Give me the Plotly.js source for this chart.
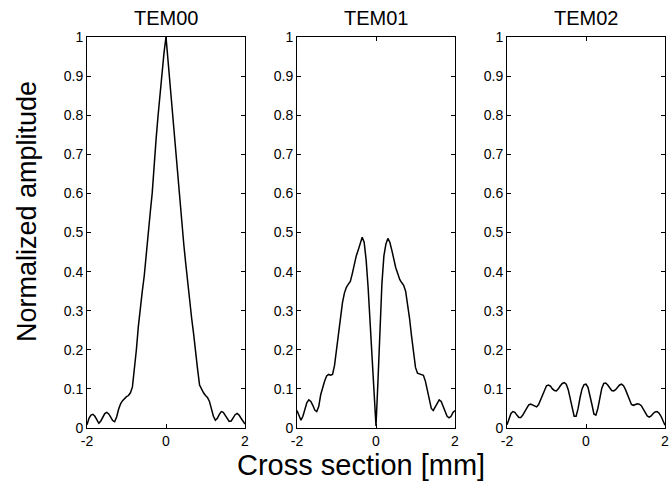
<!DOCTYPE html>
<html>
<head>
<meta charset="utf-8">
<script src="https://cdn.plot.ly/plotly-3.0.1.min.js"></script>
<style>html,body{margin:0;padding:0;background:#fff;}#chart{width:669px;height:483px;}</style>
</head>
<body>
<div id="chart"></div>
<script>
// Cross-section positions [mm]
const xPos = [-2.0,-1.95,-1.9,-1.85,-1.8,-1.75,-1.7,-1.65,-1.6,-1.55,-1.5,-1.45,-1.4,-1.35,-1.3,-1.25,-1.2,-1.15,-1.1,-1.05,
  -1.0,-0.95,-0.9,-0.85,-0.8,-0.75,-0.7,-0.65,-0.6,-0.55,-0.5,-0.45,-0.4,-0.35,-0.3,-0.25,-0.2,-0.15,-0.1,-0.05,
  0,0.05,0.1,0.15,0.2,0.25,0.3,0.35,0.4,0.45,0.5,0.55,0.6,0.65,0.7,0.75,0.8,0.85,0.9,0.95,
  1.0,1.05,1.1,1.15,1.2,1.25,1.3,1.35,1.4,1.45,1.5,1.55,1.6,1.65,1.7,1.75,1.8,1.85,1.9,1.95,2.0];

const tem00 = [0.008,0.025,0.033,0.035,0.03,0.02,0.012,0.018,0.028,0.037,0.04,0.036,0.028,0.019,0.016,0.028,0.048,0.062,0.07,0.076,
  0.08,0.083,0.09,0.105,0.15,0.2,0.26,0.31,0.35,0.39,0.45,0.51,0.55,0.6,0.68,0.74,0.8,0.86,0.91,0.96,
  1.0,0.94,0.87,0.81,0.76,0.71,0.64,0.58,0.52,0.47,0.42,0.37,0.32,0.28,0.24,0.19,0.15,0.11,0.098,0.09,
  0.083,0.078,0.068,0.05,0.03,0.02,0.025,0.035,0.042,0.04,0.033,0.025,0.017,0.018,0.026,0.034,0.037,0.033,0.025,0.018,0.01];

const tem01 = [0.045,0.03,0.02,0.03,0.05,0.065,0.072,0.068,0.058,0.046,0.042,0.055,0.085,0.105,0.12,0.133,0.137,0.135,0.137,0.16,
  0.2,0.24,0.28,0.32,0.345,0.36,0.368,0.375,0.395,0.42,0.44,0.455,0.475,0.488,0.475,0.43,0.36,0.27,0.18,0.09,
  0.005,0.12,0.25,0.37,0.44,0.47,0.485,0.475,0.455,0.43,0.41,0.395,0.38,0.372,0.365,0.35,0.32,0.28,0.235,0.19,
  0.155,0.14,0.138,0.138,0.135,0.12,0.095,0.07,0.05,0.045,0.055,0.066,0.072,0.068,0.055,0.04,0.03,0.026,0.03,0.04,0.045];

const tem02 = [0.008,0.025,0.037,0.042,0.04,0.033,0.027,0.027,0.033,0.042,0.052,0.059,0.061,0.058,0.055,0.054,0.06,0.072,0.086,0.1,
  0.108,0.11,0.107,0.1,0.096,0.095,0.1,0.108,0.114,0.116,0.112,0.098,0.075,0.048,0.03,0.03,0.05,0.078,0.1,0.111,
  0.112,0.104,0.085,0.06,0.036,0.033,0.05,0.078,0.102,0.114,0.115,0.11,0.102,0.096,0.095,0.098,0.104,0.11,0.112,0.108,
  0.098,0.085,0.07,0.06,0.058,0.06,0.062,0.061,0.057,0.048,0.038,0.031,0.028,0.031,0.037,0.041,0.042,0.038,0.03,0.018,0.007];

const panelTitles = ['TEM00','TEM01','TEM02'];
const xTickVals = [-2,0,2];
const xTickText = ['-2','0','2'];
const yTickVals = [0,0.1,0.2,0.3,0.4,0.5,0.6,0.7,0.8,0.9,1];
const yTickText = ['0','0.1','0.2','0.3','0.4','0.5','0.6','0.7','0.8','0.9','1'];
const series = [tem00, tem01, tem02];

const W = 669, H = 483;
const xDomPx = [[87,245],[297,455],[507,665]];
const yDom = [1-428/H, 1-37/H];
const font = 'Arial, "Liberation Sans", Helvetica, sans-serif';

const traces = series.map((s,i)=>({
  x: xPos, y: s, type:'scatter', mode:'lines',
  line:{color:'#000', width:1.5},
  xaxis: i===0?'x':'x'+(i+1), yaxis: i===0?'y':'y'+(i+1),
  showlegend:false, hoverinfo:'skip'
}));

const layout = {
  width: W, height: H,
  margin:{l:0,r:0,t:0,b:0},
  paper_bgcolor:'#fff', plot_bgcolor:'#fff',
  font:{family:font, color:'#000', size:13},
  annotations: [],
  showlegend:false
};

for (let i=0;i<3;i++){
  const sx = i===0?'':String(i+1);
  layout['xaxis'+sx] = {
    domain:[xDomPx[i][0]/W, xDomPx[i][1]/W], range:[-2,2],
    anchor: 'y'+sx,
    tickmode:'array', tickvals:xTickVals, ticktext:xTickText,
    ticks:'inside', ticklen:4, tickcolor:'#000', tickwidth:1,
    showline:true, linecolor:'#000', linewidth:1, mirror:'ticks',
    showgrid:false, zeroline:false, fixedrange:true,
    ticklabeloverflow:'allow',
    tickfont:{family:font, size:14, color:'#000'}
  };
  layout['yaxis'+sx] = {
    domain:yDom, range:[0,1],
    anchor: 'x'+sx,
    tickmode:'array', tickvals:yTickVals, ticktext:yTickText,
    ticks:'inside', ticklen:4, tickcolor:'#000', tickwidth:1,
    showline:true, linecolor:'#000', linewidth:1, mirror:'ticks',
    showgrid:false, zeroline:false, fixedrange:true,
    tickfont:{family:font, size:14, color:'#000'}
  };
  layout.annotations.push({
    text: panelTitles[i], xref:'paper', yref:'paper',
    x:(xDomPx[i][0]+xDomPx[i][1])/2/W, y:1-18/H,
    xanchor:'center', yanchor:'middle', showarrow:false,
    font:{family:font, size:20, color:'#000'}
  });
}

layout.annotations.push({
  text:'Normalized amplitude', xref:'paper', yref:'paper',
  x:27/W, y:1-212/H, xanchor:'center', yanchor:'middle', textangle:-90,
  showarrow:false, font:{family:font, size:27, color:'#000'}
});
layout.annotations.push({
  text:'Cross section [mm]', xref:'paper', yref:'paper',
  x:361/W, y:1-465/H, xanchor:'center', yanchor:'middle',
  showarrow:false, font:{family:font, size:29, color:'#000'}
});

Plotly.newPlot('chart', traces, layout, {staticPlot:true, displayModeBar:false});
</script>
</body>
</html>
